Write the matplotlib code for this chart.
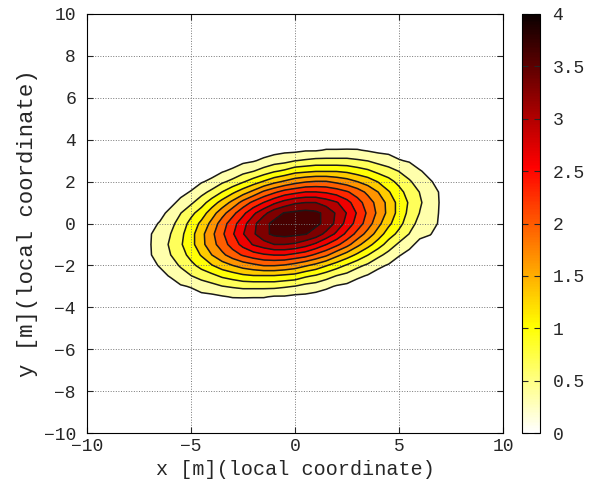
import numpy as np
import matplotlib
matplotlib.use("Agg")
import matplotlib.pyplot as plt
from matplotlib.colors import Normalize
from matplotlib.cm import ScalarMappable

# grid: x, y in metres (local coordinate)
x_m = [-7.5, -7.0, -6.5, -6.0, -5.5, -5.0, -4.5, -4.0, -3.5, -3.0, -2.5, -2.0, -1.5, -1.0, -0.5, 0.0,
       0.5, 1.0, 1.5, 2.0, 2.5, 3.0, 3.5, 4.0, 4.5, 5.0, 5.5, 6.0, 6.5, 7.0, 7.5]
y_m = [-4.0, -3.5, -3.0, -2.5, -2.0, -1.5, -1.0, -0.5, 0.0, 0.5, 1.0, 1.5, 2.0, 2.5, 3.0, 3.5, 4.0]

# estimated values, in units of 0.05 (rows = y_m from bottom to top)
density_x20 = [
    [0, 0, 1, 1, 1, 2, 2, 2, 2, 2, 3, 2, 2, 2, 2, 2, 2, 1, 1, 1, 0, 0, 0, 0, 0, 0, 0, 0, 0, 0, 0],
    [1, 1, 2, 2, 3, 4, 5, 5, 6, 7, 7, 7, 7, 6, 6, 5, 5, 4, 3, 2, 2, 1, 1, 0, 0, 0, 0, 0, 0, 0, 0],
    [1, 2, 3, 4, 6, 7, 9, 11, 13, 14, 15, 15, 15, 15, 14, 13, 11, 10, 8, 6, 5, 3, 2, 1, 1, 1, 0, 0, 0, 0, 0],
    [2, 3, 5, 7, 10, 13, 16, 18, 21, 23, 25, 26, 26, 26, 25, 24, 21, 19, 16, 13, 11, 8, 6, 4, 2, 2, 1, 0, 0, 0, 0],
    [3, 5, 7, 10, 14, 18, 22, 26, 30, 33, 36, 38, 40, 40, 39, 37, 34, 31, 27, 23, 19, 15, 12, 8, 6, 4, 2, 1, 1, 0, 0],
    [4, 6, 9, 13, 17, 22, 27, 33, 38, 43, 47, 50, 52, 53, 53, 51, 49, 45, 41, 35, 30, 25, 20, 15, 11, 7, 5, 3, 2, 1, 0],
    [4, 6, 10, 14, 19, 24, 31, 37, 43, 49, 55, 60, 63, 66, 66, 65, 62, 58, 53, 48, 42, 35, 29, 23, 17, 12, 8, 5, 3, 2, 1],
    [3, 6, 9, 13, 18, 24, 31, 38, 45, 52, 59, 65, 71, 74, 75, 74, 73, 70, 64, 58, 51, 44, 37, 30, 23, 18, 13, 8, 7, 3, 2],
    [2, 5, 7, 11, 16, 22, 28, 35, 43, 50, 57, 64, 71, 74, 77, 79, 77, 74, 71, 64, 57, 50, 43, 35, 28, 22, 16, 11, 8, 6, 2],
    [2, 3, 5, 8, 13, 18, 23, 30, 37, 44, 51, 58, 64, 70, 73, 74, 75, 74, 71, 65, 59, 52, 45, 38, 31, 24, 18, 13, 9, 6, 3],
    [1, 2, 3, 5, 8, 12, 17, 23, 29, 35, 42, 48, 53, 58, 62, 65, 66, 66, 63, 60, 55, 49, 43, 37, 31, 24, 19, 14, 10, 6, 4],
    [0, 1, 2, 3, 5, 7, 11, 15, 20, 25, 30, 35, 41, 45, 49, 51, 53, 53, 52, 50, 47, 43, 38, 33, 27, 22, 17, 13, 9, 6, 4],
    [0, 0, 1, 1, 2, 4, 6, 8, 12, 15, 19, 23, 27, 31, 34, 37, 39, 40, 40, 38, 36, 33, 30, 26, 22, 18, 14, 10, 7, 5, 3],
    [0, 0, 0, 0, 1, 2, 2, 4, 6, 8, 11, 13, 16, 19, 21, 24, 25, 26, 26, 26, 25, 23, 21, 18, 16, 13, 10, 7, 5, 3, 2],
    [0, 0, 0, 0, 0, 1, 1, 1, 2, 3, 5, 6, 8, 10, 11, 13, 14, 15, 15, 15, 15, 14, 13, 11, 9, 7, 6, 4, 3, 2, 1],
    [0, 0, 0, 0, 0, 0, 0, 0, 1, 1, 2, 2, 3, 4, 5, 5, 6, 6, 7, 7, 7, 7, 6, 5, 5, 4, 3, 2, 2, 1, 1],
    [0, 0, 0, 0, 0, 0, 0, 0, 0, 0, 0, 1, 1, 1, 2, 2, 2, 2, 2, 2, 3, 2, 2, 2, 2, 2, 1, 1, 1, 0, 0],
]
DENSITY_UNIT = 0.05

contour_levels = [0.33, 0.66, 0.99, 1.32, 1.65, 1.98, 2.31, 2.64, 2.97, 3.30, 3.63, 4.0]
x_ticks = [-10, -5, 0, 5, 10]
y_ticks = [-10, -8, -6, -4, -2, 0, 2, 4, 6, 8, 10]
cbar_ticks = [0, 0.5, 1, 1.5, 2, 2.5, 3, 3.5, 4]
cbar_labels = ["0", "0.5", "1", "1.5", "2", "2.5", "3", "3.5", "4"]

# ---- style -----------------------------------------------------------------
MONO = ["Liberation Mono", "DejaVu Sans Mono"]
INK = "#262626"
plt.rcParams["font.family"] = MONO

Z = np.array(density_x20, dtype=float) * DENSITY_UNIT

fig = plt.figure(figsize=(5.89, 4.91), dpi=100)
ax = fig.add_axes([87 / 589, 58 / 491, 416 / 589, 419 / 491])
cax = fig.add_axes([522 / 589, 58 / 491, 18 / 589, 419 / 491])

cmap = plt.get_cmap("hot_r")
norm = Normalize(0, 4)
# each band takes the colour of its lower level
band_colors = [cmap(norm(v)) for v in contour_levels[:-1]]
ax.contourf(x_m, y_m, Z, levels=contour_levels, colors=band_colors)
ax.contour(x_m, y_m, Z, levels=contour_levels[:-1], colors="#1a1a1a", linewidths=1.1)

ax.set_xlim(-10, 10)
ax.set_ylim(-10, 10)
ax.set_xticks(x_ticks)
ax.set_yticks(y_ticks)
ax.grid(True, ls=":", color="#777777", lw=0.7)
ax.tick_params(direction="in", top=True, right=True, labelsize=13, colors=INK, length=4)
ax.tick_params(axis="y", pad=8)
ax.set_xlabel("x [m](local coordinate)", fontsize=14.5, color=INK)
ax.set_ylabel("y [m](local coordinate)", fontsize=16, color=INK)

cb = fig.colorbar(ScalarMappable(norm=norm, cmap=cmap), cax=cax)
cb.set_ticks(cbar_ticks)
cb.set_ticklabels(cbar_labels)
cax.tick_params(direction="in", left=True, right=True, labelsize=13, colors=INK,
                length=4, pad=9)

fig.savefig("out.png")
